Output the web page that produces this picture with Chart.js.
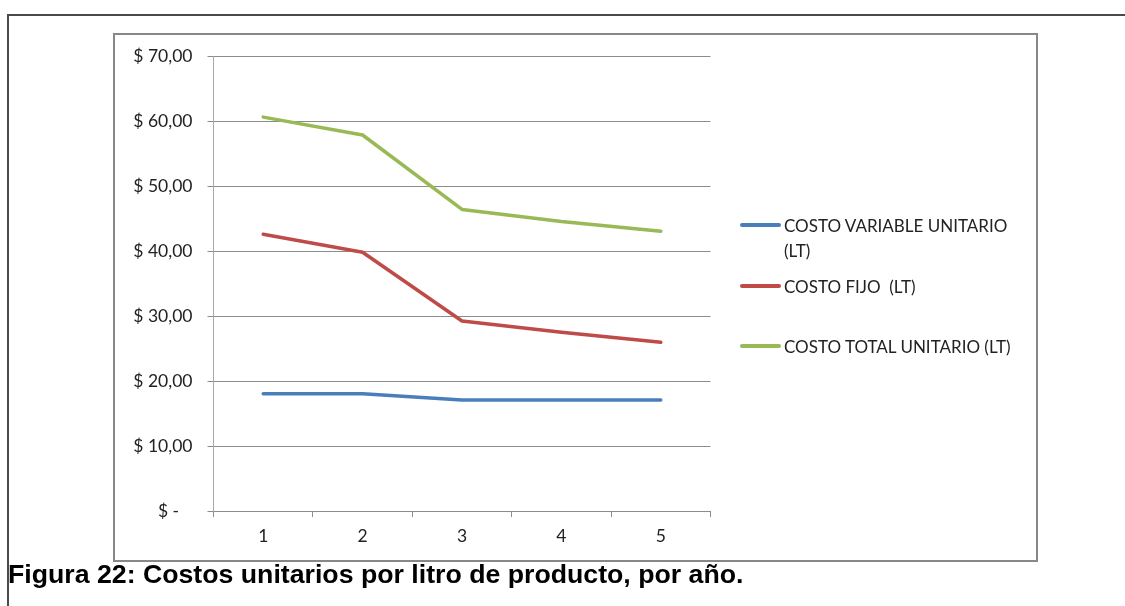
<!DOCTYPE html>
<html lang="es">
<head>
<meta charset="utf-8">
<title>Costos unitarios por litro de producto</title>
<script src="https://cdn.jsdelivr.net/npm/chart.js@4/dist/chart.umd.min.js"></script>
<style>
  html, body { margin: 0; padding: 0; background: #ffffff; }
  body { width: 1125px; height: 606px; position: relative; overflow: hidden; }
  .frame-top { position: absolute; left: 7px; top: 14px; width: 1118px; height: 2px; background: #4a4a4a; }
  .frame-left { position: absolute; left: 7px; top: 14px; width: 2px; height: 592px; background: #4a4a4a; }
  .chart-box { position: absolute; left: 113px; top: 33px; width: 925px; height: 529px;
               box-sizing: border-box; border: 2px solid #888888; background: #ffffff; }
  #chart { position: absolute; left: 0; top: 0; }
  .legend { position: absolute; left: 0; top: 0; font-family: Lato, "Open Sans", sans-serif;
            font-size: 17px; color: #222222; }
  .legend-item { position: absolute; left: 740px; width: 290px; display: flex; align-items: flex-start; }
  .legend-swatch { width: 41px; height: 3.5px; border-radius: 2px; margin-top: 10.5px; flex: none; }
  .legend-text { margin-left: 3px; width: 238px; line-height: 25px; white-space: pre-wrap; }
  .caption { position: absolute; left: 8px; top: 561px; font-family: "Liberation Sans", Arial, sans-serif;
             font-weight: bold; font-size: 26.7px; line-height: 1; color: #000000; white-space: nowrap; }
</style>
</head>
<body>
<div class="frame-top"></div>
<div class="frame-left"></div>
<div class="chart-box"></div>
<canvas id="chart" width="1125" height="606"></canvas>
<div class="legend" id="legend"></div>
<div class="caption">Figura 22: Costos unitarios por litro de producto, por año.</div>
<script>
// Years of the projection
const categories = ['1', '2', '3', '4', '5'];

// Unit costs per litre, in $
const costoVariable = [18.05, 18.05, 17.08, 17.08, 17.08];
const costoFijo = [42.57, 39.80, 29.23, 27.50, 25.95];
const costoTotal = [60.60, 57.85, 46.40, 44.55, 43.05];

// Series names
const seriesNames = ['COSTO VARIABLE UNITARIO (LT)', 'COSTO FIJO  (LT)', 'COSTO TOTAL UNITARIO (LT)'];

// Value axis labels, from $0 to $70 every $10 (accounting style)
const yTickValues = [0, 10, 20, 30, 40, 50, 60, 70];
const yTickLabels = ['$ -   ', '$ 10,00', '$ 20,00', '$ 30,00', '$ 40,00', '$ 50,00', '$ 60,00', '$ 70,00'];

const seriesColors = ['#4a7ebb', '#be4b48', '#98b954'];
const seriesValues = [costoVariable, costoFijo, costoTotal];

const axisFont = { family: 'Lato, "Open Sans", sans-serif', size: 17.5 };

const chart = new Chart(document.getElementById('chart'), {
  type: 'line',
  data: {
    labels: categories,
    datasets: seriesNames.map((name, i) => ({
      label: name,
      data: seriesValues[i],
      borderColor: seriesColors[i],
      backgroundColor: seriesColors[i],
      borderWidth: 3.5,
      borderCapStyle: 'round',
      borderJoinStyle: 'round',
      pointRadius: 0,
      pointHoverRadius: 0,
      tension: 0,
      fill: false
    }))
  },
  options: {
    responsive: false,
    devicePixelRatio: 1,
    animation: false,
    events: [],
    layout: { padding: { left: 113, top: 56, right: 414.5, bottom: 55 } },
    plugins: {
      legend: { display: false },
      title: { display: false },
      tooltip: { enabled: false }
    },
    scales: {
      x: {
        type: 'category',
        offset: true,
        grid: {
          display: true,
          offset: true,
          drawOnChartArea: false,
          drawTicks: true,
          tickLength: 6,
          color: '#8c8c8c',
          lineWidth: 1
        },
        border: { display: true, color: '#8c8c8c', width: 1 },
        ticks: { color: '#222222', font: axisFont, padding: 9, maxRotation: 0 },
        afterFit: (scale) => { scale.height = 40; }
      },
      y: {
        min: 0,
        max: 70,
        afterBuildTicks: (scale) => { scale.ticks = yTickValues.map(v => ({ value: v })); },
        grid: {
          color: '#8c8c8c',
          lineWidth: 1,
          drawTicks: true,
          tickLength: 6
        },
        border: { display: true, color: '#a8a8a8', width: 1 },
        ticks: {
          color: '#222222',
          font: axisFont,
          padding: 15,
          callback: (value) => yTickLabels[yTickValues.indexOf(value)]
        },
        afterFit: (scale) => { scale.width = 100.5; }
      }
    }
  }
});

// Legend beside the plot, built from the chart's datasets
const legendTops = [212.5, 273.5, 333.5];
const legendEl = document.getElementById('legend');
chart.data.datasets.forEach((ds, i) => {
  const item = document.createElement('div');
  item.className = 'legend-item';
  item.style.top = legendTops[i] + 'px';
  const swatch = document.createElement('div');
  swatch.className = 'legend-swatch';
  swatch.style.background = ds.borderColor;
  const text = document.createElement('div');
  text.className = 'legend-text';
  text.textContent = ds.label;
  item.appendChild(swatch);
  item.appendChild(text);
  legendEl.appendChild(item);
});
</script>
</body>
</html>
